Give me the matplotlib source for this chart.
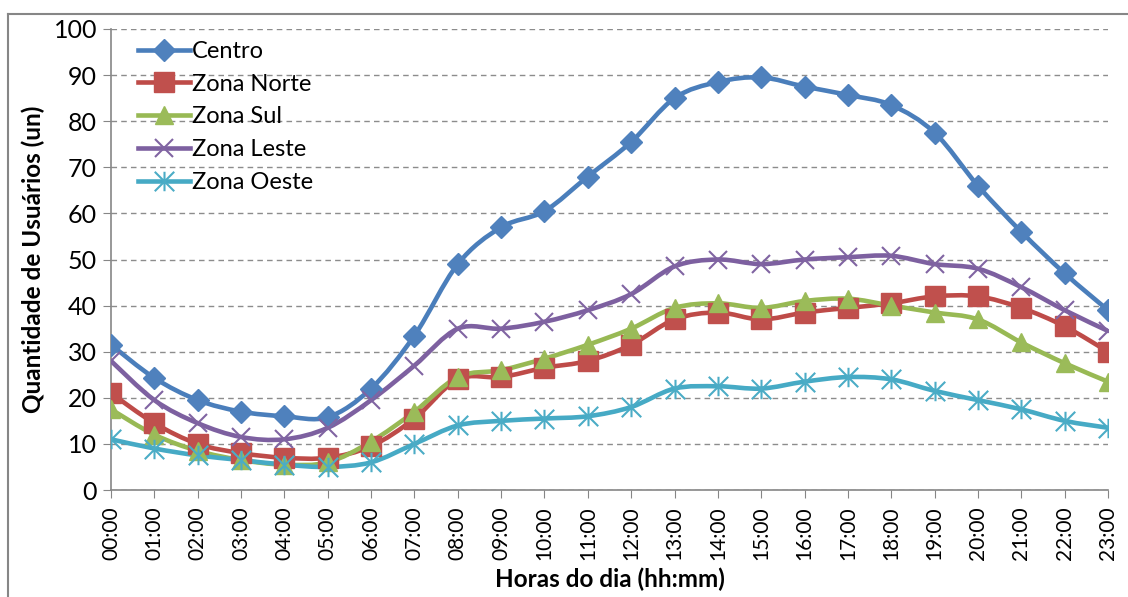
import numpy as np
import matplotlib
matplotlib.use('Agg')
import matplotlib.pyplot as plt
from matplotlib.path import Path
from matplotlib.patches import PathPatch
from matplotlib.lines import Line2D

plt.rcParams['font.family'] = ['Lato', 'DejaVu Sans']

horas = ['%02d:00' % h for h in range(24)]

centro = [31.5, 24.3, 19.5, 17, 16, 15.8, 22, 33.5, 49, 57, 60.5, 68,
          75.5, 85, 88.5, 89.5, 87.5, 85.7, 83.5, 77.5, 66, 56, 47, 39]
norte = [21, 14.5, 10, 8, 7, 7, 9.5, 15.5, 24, 24.5, 26.5, 28,
         31.5, 37, 38.5, 37, 38.5, 39.5, 40.5, 42, 42, 39.5, 35.5, 30]
sul = [17.5, 12, 8.5, 6.5, 5.5, 6, 10.5, 17, 24.5, 26, 28.5, 31.5,
       35, 39.5, 40.5, 39.5, 41, 41.5, 40, 38.5, 37, 32, 27.5, 23.5]
leste = [28, 19.5, 14.5, 11.5, 11, 13.5, 19.5, 27, 35, 35, 36.5, 39,
         42.5, 48.5, 50, 49, 50, 50.5, 50.8, 49, 48, 44, 39, 34.5]
oeste = [11, 9, 7.5, 6.5, 5.5, 5, 6, 10, 14, 15, 15.5, 16,
         18, 22, 22.5, 22, 23.5, 24.5, 24, 21.5, 19.5, 17.5, 15, 13.5]

nomes = ['Centro', 'Zona Norte', 'Zona Sul', 'Zona Leste', 'Zona Oeste']
series = [centro, norte, sul, leste, oeste]

# excel-ish colours: line, marker
cores = [('#4A7EBB', '#4F81BD'), ('#BE4B48', '#C0504D'), ('#98B954', '#9BBB59'),
         ('#7D60A0', '#8064A2'), ('#46AAC5', '#4BACC6')]

asterisco = Path([(-0.5, -0.5), (0.5, 0.5), (-0.5, 0.5), (0.5, -0.5), (0, -0.5), (0, 0.5)],
                 [Path.MOVETO, Path.LINETO, Path.MOVETO, Path.LINETO, Path.MOVETO, Path.LINETO])
marcadores = [('D', 11, 1), ('s', 14, 1), ('^', 13, 1), ('x', 13, 1.5), (asterisco, 14, 1.5)]


def curva_suave(x, y):
    # smooth line like excel: catmull-rom as cubic bezier segments
    pts = np.column_stack([x, y]).astype(float)
    n = len(pts)
    verts = [pts[0]]
    codes = [Path.MOVETO]
    for i in range(n - 1):
        p0 = pts[max(i - 1, 0)]
        p1 = pts[i]
        p2 = pts[i + 1]
        p3 = pts[min(i + 2, n - 1)]
        verts += [p1 + (p2 - p0) / 6, p2 - (p3 - p1) / 6, p2]
        codes += [Path.CURVE4] * 3
    return Path(verts, codes)


fig = plt.figure(figsize=(11.28, 5.97), dpi=100)
ax = fig.add_axes([111 / 1128, 1 - 490 / 597, 997 / 1128, 461 / 597])

x = np.arange(len(horas))
handles = []
for nome, ys, (cl, cm), (mk, ms, mew) in zip(nomes, series, cores, marcadores):
    ax.add_patch(PathPatch(curva_suave(x, ys), fill=False, edgecolor=cl, lw=3.3,
                           capstyle='round', joinstyle='round', zorder=3))
    ax.plot(x, ys, linestyle='none', marker=mk, markersize=ms, color=cm,
            markeredgewidth=mew, zorder=4)
    handles.append(Line2D([], [], color=cl, lw=3.3, marker=mk, markersize=ms,
                          markerfacecolor=cm, markeredgecolor=cm, markeredgewidth=mew))

ax.set_xlim(0, 23)
ax.set_ylim(0, 100)
ax.set_xticks(x)
ax.set_xticklabels(horas, rotation=90, fontsize=15)
ax.set_yticks(range(0, 101, 10))
ax.tick_params(axis='y', labelsize=18, length=6, color='#868686', pad=4)
ax.tick_params(axis='x', length=6, color='#868686', pad=6)
ax.yaxis.grid(True, linestyle=(0, (4, 3)), color='#8c8c8c', lw=1)
ax.set_axisbelow(True)
for s in ['top', 'right']:
    ax.spines[s].set_visible(False)
for s in ['left', 'bottom']:
    ax.spines[s].set_color('#868686')
    ax.spines[s].set_linewidth(1.2)

ax.set_ylabel('Quantidade de Usuários (un)', fontsize=17.5, fontweight='bold', labelpad=6)
ax.set_xlabel('Horas do dia (hh:mm)', fontsize=17.5, fontweight='bold', labelpad=5)

ax.legend(handles, nomes, loc='upper left', bbox_to_anchor=(0.015, 1.0), frameon=False,
          fontsize=17, handlelength=2.2, handletextpad=0.1, labelspacing=0.5,
          borderaxespad=0.1)

# chart border (partially cropped in the original)
fig.add_artist(Line2D([8 / 1128, 8 / 1128], [0, 1 - 14 / 597], transform=fig.transFigure,
                      color='#868686', lw=1.5))
fig.add_artist(Line2D([8 / 1128, 1], [1 - 14 / 597, 1 - 14 / 597], transform=fig.transFigure,
                      color='#868686', lw=1.5))

fig.savefig('out.png', dpi=100)
